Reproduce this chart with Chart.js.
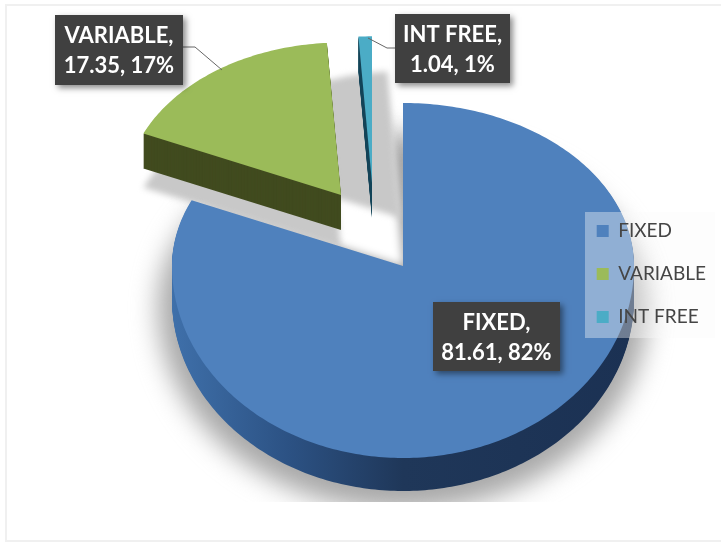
<!DOCTYPE html>
<html>
<head>
<meta charset="utf-8">
<style>
  html, body { margin: 0; padding: 0; background: #fff; }
  canvas { display: block; filter: blur(0.5px); }
</style>
<script src="https://cdn.jsdelivr.net/npm/chart.js@4/dist/chart.umd.min.js"></script>
</head>
<body>
<canvas id="myChart" width="721" height="544"></canvas>
<script>
var categories = ['FIXED', 'VARIABLE', 'INT FREE'];
var values = [81.61, 17.35, 1.04];
var percents = [82, 17, 1];

var faceColors = ['#4f81bd', '#9bbb59', '#4bacc6'];

// the pie is tilted, so the top half is flatter than the bottom half
var pie = { x: 403, y: 266, rx: 231, ryTop: 163, ryBot: 192, depth: 33 };

// where each slice was pulled to, and how much it shrinks
var pulled = [
    { dx: 0, dy: 0, k: 1, depth: 33 },
    { dx: -62, dy: -71, k: 0.935, depth: 35 },
    { dx: -31, dy: -83, k: 0.9, depth: 35 }
];

var boxes = [
    { x: 433, y: 302, w: 127, h: 69 },
    { x: 55, y: 15, w: 128, h: 70 },
    { x: 395, y: 14, w: 115, h: 69 }
];

function slicePath(ctx, arc, ax, ay, k) {
    var a0 = arc.startAngle, a1 = arc.endAngle;
    var n = Math.ceil((a1 - a0) * 60);
    ctx.beginPath();
    ctx.moveTo(ax, ay);
    for (var i = 0; i <= n; i++) {
        var a = a0 + (a1 - a0) * i / n;
        var s = Math.sin(a);
        ctx.lineTo(ax + pie.rx * k * Math.cos(a), ay + (s < 0 ? pie.ryTop : pie.ryBot) * k * s);
    }
    ctx.closePath();
}

var pie3d = {
    id: 'pie3d',
    beforeLayout: function (chart) {
        // legend has to sit on top of the pie
        chart.legend._layers = function () {
            return [{ z: 5, draw: function (area) { chart.legend.draw(area); } }];
        };
    },
    beforeDatasetsDraw: function (chart) {
        var ctx = chart.ctx;
        var arcs = chart.getDatasetMeta(0).data;
        var green = arcs[1].getProps(['startAngle', 'endAngle']);
        var whole = { startAngle: 0, endAngle: Math.PI * 2 };

        // frame
        ctx.save();
        ctx.strokeStyle = '#f0f0f0';
        ctx.lineWidth = 2;
        ctx.beginPath();
        ctx.moveTo(721, 5); ctx.lineTo(6, 5); ctx.lineTo(6, 541); ctx.lineTo(721, 541);
        ctx.stroke();
        ctx.restore();

        // shadow under the big pie, cut off flat at the bottom
        ctx.save();
        ctx.beginPath();
        ctx.rect(0, 0, 721, 502);
        ctx.clip();
        ctx.filter = 'blur(13px)';
        ctx.fillStyle = '#a8a8a8';
        slicePath(ctx, whole, pie.x, pie.y + pie.depth + 8, 1.06);
        ctx.fill();
        ctx.restore();

        // white hole in the wedge the slices were pulled from
        ctx.save();
        ctx.fillStyle = '#ffffff';
        ctx.filter = 'blur(4px)';
        slicePath(ctx, green, pie.x, pie.y, 1.1);
        ctx.fill();
        ctx.restore();

        // shadows of the pulled slices
        ctx.save();
        ctx.filter = 'blur(3px)';
        ctx.fillStyle = '#c8c8c8';
        slicePath(ctx, green, pie.x - 2, pie.y - 48, 0.9);
        ctx.fill();
        slicePath(ctx, green, pie.x + pulled[1].dx, pie.y + pulled[1].dy + 54, pulled[1].k);
        ctx.fill();
        ctx.restore();

        var sideGrad = ctx.createLinearGradient(pie.x - pie.rx, 0, pie.x + pie.rx, 0);
        sideGrad.addColorStop(0, '#3f70aa');
        sideGrad.addColorStop(0.25, '#2c5284');
        sideGrad.addColorStop(0.5, '#1f3759');
        sideGrad.addColorStop(1, '#1b3153');
        var sides = [sideGrad, '#414b1f', '#16465a'];

        for (var i = 0; i < arcs.length; i++) {
            var arc = arcs[i].getProps(['startAngle', 'endAngle']);
            var p = pulled[i];
            var ax = pie.x + p.dx, ay = pie.y + p.dy;
            ctx.fillStyle = sides[i];
            for (var d = p.depth; d > 0; d--) {
                slicePath(ctx, arc, ax, ay + d, p.k);
                ctx.fill();
            }
            ctx.fillStyle = arcs[i].options.backgroundColor;
            slicePath(ctx, arc, ax, ay, p.k);
            ctx.fill();
        }

        // see-through legend panel
        ctx.fillStyle = 'rgba(250,250,250,0.38)';
        ctx.fillRect(585, 212, 130, 126);

        // leader lines
        ctx.strokeStyle = '#666666';
        ctx.lineWidth = 1;
        ctx.beginPath();
        ctx.moveTo(183, 47); ctx.lineTo(195, 47); ctx.lineTo(222, 70);
        ctx.moveTo(395, 48); ctx.lineTo(387, 48); ctx.lineTo(368, 38);
        ctx.stroke();

        // data labels
        for (var j = 0; j < boxes.length; j++) {
            var b = boxes[j];
            ctx.save();
            ctx.shadowColor = 'rgba(0,0,0,0.45)';
            ctx.shadowBlur = 6;
            ctx.shadowOffsetX = 3;
            ctx.shadowOffsetY = 3;
            ctx.fillStyle = '#404040';
            ctx.fillRect(b.x, b.y, b.w, b.h);
            ctx.restore();
            ctx.fillStyle = '#ffffff';
            ctx.font = 'bold 22px Lato';
            ctx.textAlign = 'center';
            ctx.textBaseline = 'middle';
            ctx.fillText(categories[j] + ',', b.x + b.w / 2, b.y + 21);
            ctx.fillText(values[j] + ', ' + percents[j] + '%', b.x + b.w / 2, b.y + 51);
        }

        // slices are done by hand above, so skip the flat ones
        return false;
    }
};

var chart = new Chart(document.getElementById('myChart').getContext('2d'), {
    type: 'pie',
    data: {
        labels: categories,
        datasets: [{
            data: values,
            backgroundColor: faceColors,
            borderWidth: 0
        }]
    },
    options: {
        responsive: false,
        animation: false,
        layout: { padding: { right: 5, top: 4 } },
        plugins: {
            tooltip: { enabled: false },
            legend: {
                position: 'right',
                labels: {
                    boxWidth: 12,
                    boxHeight: 12,
                    padding: 24,
                    color: '#454545',
                    font: { family: 'Lato', size: 19 }
                }
            }
        }
    },
    plugins: [pie3d]
});
</script>
</body>
</html>
